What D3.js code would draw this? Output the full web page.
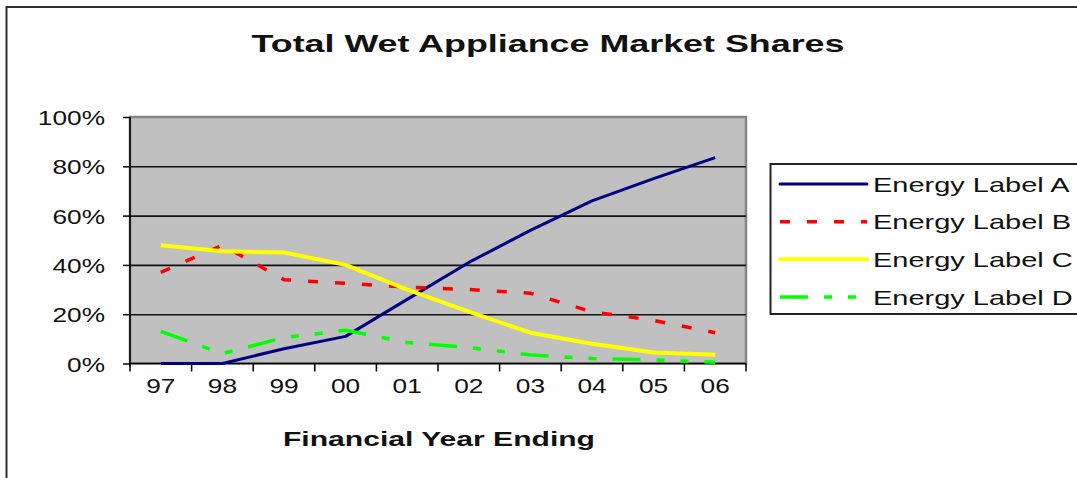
<!DOCTYPE html>
<html>
<head>
<meta charset="utf-8">
<script src="https://cdn.jsdelivr.net/npm/d3@7"></script>
<style>
  html, body { margin: 0; padding: 0; background: #fff; }
  svg { display: block; font-family: "Liberation Sans", Arial, sans-serif; }
</style>
</head>
<body>
<svg id="chart" width="1077" height="478"></svg>
<script>
// Financial years (x categories)
const years = ["97", "98", "99", "00", "01", "02", "03", "04", "05", "06"];

// Market share (%) per energy label
const labelA = [0, 0, 6, 11, 26, 41, 54, 66, 75, 83.5];
const labelB = [37, 48, 34, 32.5, 31, 30, 28.5, 21, 17.5, 12.5];
const labelC = [48, 45.5, 45, 40, 30, 21, 12.5, 8, 4.5, 3.5];
const labelD = [13, 4, 10.5, 13.5, 8.5, 6.5, 3.5, 2, 1.5, 0.5];

const seriesNames = ["Energy Label A", "Energy Label B", "Energy Label C", "Energy Label D"];
const yTicks = [0, 0.2, 0.4, 0.6, 0.8, 1.0];

const titleText = "Total Wet Appliance Market Shares";
const xTitleText = "Financial Year Ending";

const styles = [
  { color: "#000080", width: 3,   dash: null },
  { color: "#ff0000", width: 3.5, dash: "10,17" },
  { color: "#ffff00", width: 4,   dash: null },
  { color: "#00ff00", width: 3.5, dash: "28,16,8,16,8,16" }
];

const series = [labelA, labelB, labelC, labelD].map((vals, i) => ({
  name: seriesNames[i],
  values: vals.map((v, j) => ({ year: years[j], v: v / 100 })),
  style: styles[i]
}));

const svg = d3.select("#chart");

// Outer chart frame (extends past the right and bottom edges)
svg.append("rect")
  .attr("x", 6.5).attr("y", 7)
  .attr("width", 1100).attr("height", 500)
  .attr("fill", "none").attr("stroke", "#303030").attr("stroke-width", 2);

const plot = { left: 130, right: 746, top: 117, bottom: 363.5 };

const x = d3.scaleBand().domain(years).range([plot.left, plot.right]).padding(0);
const y = d3.scaleLinear().domain([0, 1]).range([plot.bottom, plot.top]);

// Plot area background
svg.append("rect")
  .attr("x", plot.left).attr("y", plot.top)
  .attr("width", plot.right - plot.left).attr("height", plot.bottom - plot.top)
  .attr("fill", "#c0c0c0").attr("stroke", "#858585").attr("stroke-width", 2.5);

// Horizontal gridlines
const grid = svg.append("g")
  .attr("transform", `translate(${plot.left},0)`)
  .call(d3.axisLeft(y).tickValues(yTicks.slice(1, 5)).tickSize(-(plot.right - plot.left)).tickFormat(""));
grid.select(".domain").remove();
grid.selectAll(".tick line").attr("stroke", "#111").attr("stroke-width", 1.6);

// Y axis with percentage labels
const yAxis = svg.append("g")
  .attr("transform", `translate(${plot.left},0)`)
  .call(d3.axisLeft(y).tickValues(yTicks).tickSize(7).tickPadding(0).tickFormat(d3.format(".0%")));
yAxis.select(".domain").attr("stroke", "#000").attr("stroke-width", 1.6)
  .attr("d", `M0,${plot.top}V${plot.bottom + 3}`);
yAxis.selectAll(".tick line").attr("stroke", "#000").attr("stroke-width", 1.5);
const ySx = 1.25;
yAxis.selectAll(".tick text")
  .attr("x", null).attr("dy", null)
  .attr("font-size", 21).attr("fill", "#111")
  .attr("text-anchor", "end")
  .attr("transform", `translate(-25,7.5) scale(${ySx},1)`);

// X axis: baseline, tick marks between categories, centred labels
const xAxis = svg.append("g")
  .attr("transform", `translate(0,${plot.bottom})`)
  .call(d3.axisBottom(x).tickSize(0).tickPadding(0));
xAxis.select(".domain").attr("stroke", "#000").attr("stroke-width", 1.6)
  .attr("d", `M${plot.left},0H${plot.right}`);
const xSx = 1.25;
xAxis.selectAll(".tick text")
  .attr("y", null).attr("dy", null)
  .attr("font-size", 21).attr("fill", "#111")
  .attr("transform", `translate(0,29) scale(${xSx},1)`);

const boundaries = years.map(d => x(d)).concat([x.range()[1]]);
xAxis.selectAll("line.cat-tick")
  .data(boundaries)
  .join("line")
  .attr("class", "cat-tick")
  .attr("x1", d => d).attr("x2", d => d)
  .attr("y1", 0).attr("y2", 8)
  .attr("stroke", "#000").attr("stroke-width", 1.5);

// Series lines
const line = d3.line()
  .x(d => x(d.year) + x.bandwidth() / 2)
  .y(d => y(d.v));

svg.append("g").selectAll("path.series")
  .data(series)
  .join("path")
  .attr("class", "series")
  .attr("d", d => line(d.values))
  .attr("fill", "none")
  .attr("stroke", d => d.style.color)
  .attr("stroke-width", d => d.style.width)
  .attr("stroke-dasharray", d => d.style.dash)
  .attr("stroke-linejoin", "round");

// Chart title
svg.append("text")
  .attr("x", 548).attr("y", 52)
  .attr("text-anchor", "middle")
  .attr("font-size", 24).attr("font-weight", "bold").attr("fill", "#111")
  .attr("textLength", 593).attr("lengthAdjust", "spacingAndGlyphs")
  .text(titleText);

// X axis title
svg.append("text")
  .attr("x", 439).attr("y", 446)
  .attr("text-anchor", "middle")
  .attr("font-size", 21).attr("font-weight", "bold").attr("fill", "#111")
  .attr("textLength", 312).attr("lengthAdjust", "spacingAndGlyphs")
  .text(xTitleText);

// Legend
const legend = svg.append("g");
legend.append("rect")
  .attr("x", 770.5).attr("y", 164)
  .attr("width", 400).attr("height", 150)
  .attr("fill", "#fff").attr("stroke", "#222").attr("stroke-width", 2);

const rowY = d3.scalePoint().domain(seriesNames).range([184, 297]);
const rows = legend.selectAll("g.row")
  .data(series)
  .join("g")
  .attr("class", "row")
  .attr("transform", d => `translate(0,${rowY(d.name)})`);

rows.append("line")
  .attr("x1", 780).attr("x2", 867)
  .attr("y1", 0).attr("y2", 0)
  .attr("stroke", d => d.style.color)
  .attr("stroke-width", d => d.style.width)
  .attr("stroke-dasharray", d => d.style.dash)
  .attr("stroke-linecap", d => d.style.dash ? "butt" : "round");

rows.append("text")
  .attr("transform", "translate(873,7.5) scale(1.38,1)")
  .attr("font-size", 21).attr("fill", "#111")
  .text(d => d.name);
</script>
</body>
</html>
